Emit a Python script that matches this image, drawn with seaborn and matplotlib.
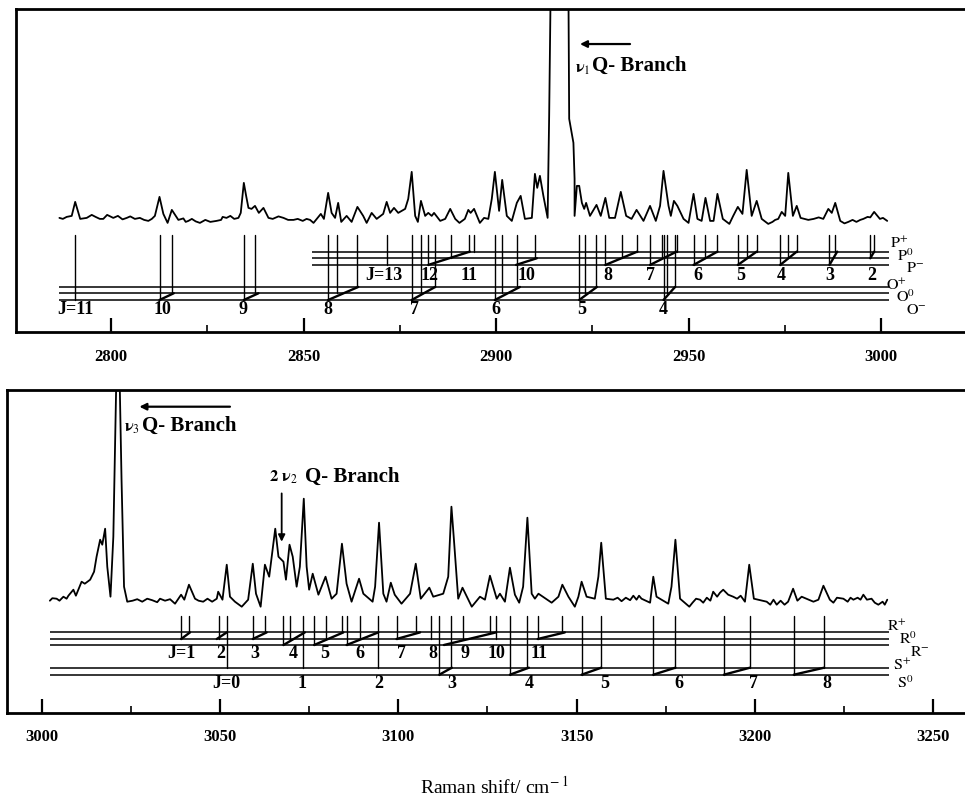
import matplotlib
matplotlib.use('Agg')
import pandas as pd
import seaborn as sns
import matplotlib.pyplot as plt

# spectrum 1 (v1 region)
shift_1 = [2786.6, 2788.5, 2789.8, 2790.7, 2792.0, 2793.7, 2795.0, 2797.1, 2799.0, 2800.6, 2804.1, 2807.5, 2809.7, 2811.4,
           2812.6, 2813.6, 2814.7, 2815.8, 2817.5, 2820.1, 2823.1, 2827.4, 2830.0, 2833.1, 2833.7, 2834.5, 2835.1, 2835.7,
           2836.5, 2837.4, 2838.4, 2839.6, 2840.9, 2844.8, 2847.4, 2851.7, 2852.6, 2854.5, 2855.3, 2856.4, 2857.3, 2858.2,
           2859.0, 2859.8, 2861.2, 2862.5, 2864.0, 2865.5, 2866.4, 2867.7, 2869.0, 2870.7, 2871.6, 2872.5, 2873.5, 2874.6,
           2876.4, 2877.2, 2878.1, 2879.0, 2879.7, 2880.5, 2881.6, 2882.4, 2883.3, 2883.9, 2885.5, 2886.8, 2888.1, 2889.4,
           2890.5, 2891.9, 2892.8, 2893.4, 2894.3, 2895.8, 2896.9, 2898.0, 2898.9, 2899.7, 2900.8, 2901.6, 2902.8, 2904.1,
           2905.4, 2906.4, 2907.5, 2909.3, 2910.1, 2910.7, 2911.4, 2912.3, 2913.4, 2913.8, 2914.2, 2918.8, 2919.0, 2920.1,
           2920.4, 2920.4, 2921.0, 2921.6, 2922.3, 2922.9, 2923.4, 2924.4, 2926.1, 2927.2, 2928.4, 2929.4, 2930.9, 2932.4,
           2933.8, 2935.2, 2936.5, 2938.3, 2940.0, 2941.5, 2942.6, 2943.5, 2944.8, 2945.4, 2946.2, 2947.1, 2948.7, 2950.0,
           2951.3, 2952.3, 2953.4, 2954.4, 2955.6, 2956.5, 2957.5, 2958.9, 2960.6, 2961.6, 2962.8, 2964.0, 2965.1, 2966.4,
           2967.7, 2969.0, 2970.7, 2973.3, 2974.2, 2975.1, 2975.9, 2977.1, 2978.1, 2979.1, 2981.1, 2985.0, 2986.3, 2987.2,
           2988.1, 2989.4, 2991.5, 2995.4, 2998.2, 2999.7, 3001.6]
intensity_1 = [114, 115, 116, 130, 113, 114, 117, 113, 117, 114, 114, 114, 111, 116,
               135, 118, 109, 122, 112, 111, 109, 111, 114, 114, 119, 149, 136, 124,
               123, 126, 119, 124, 114, 114, 112, 112, 109, 118, 113, 139, 119, 114,
               129, 110, 116, 110, 125, 116, 109, 119, 113, 118, 130, 119, 124, 119,
               123, 133, 160, 116, 110, 131, 116, 119, 116, 119, 111, 113, 123, 113,
               109, 113, 122, 119, 123, 109, 114, 113, 133, 160, 121, 152, 116, 111,
               129, 136, 113, 114, 158, 144, 156, 136, 114, 216, 346, 346, 213, 189,
               153, 116, 146, 146, 129, 123, 129, 116, 127, 116, 134, 114, 114, 140,
               116, 113, 122, 111, 126, 111, 126, 161, 126, 116, 131, 126, 113, 109,
               138, 113, 111, 134, 111, 111, 138, 113, 108, 116, 125, 118, 162, 116,
               131, 113, 108, 113, 120, 116, 159, 116, 126, 114, 112, 113, 123, 119,
               129, 111, 110, 113, 120, 113, 111]
# baseline wiggles between the peaks
wiggle_shift_1 = [2787.5, 2796.0, 2798.0, 2801.8, 2803.0, 2805.0, 2806.2, 2808.6, 2810.6, 2818.8, 2819.4, 2821.0, 2822.0,
                  2824.5, 2825.8, 2828.6, 2829.0, 2831.0, 2832.0, 2842.0, 2843.5, 2846.0, 2848.5, 2849.8, 2850.8,
                  2971.8, 2972.5, 2982.5, 2983.8, 2990.5, 2992.6, 2993.6, 2994.6, 2996.5, 2997.2, 3000.5]
wiggle_intensity_1 = [113, 115, 113, 116, 112.5, 115.5, 113, 112, 113, 113.5, 110, 113, 110.5,
                      112, 110, 112, 115, 116, 113, 113, 115.5, 112, 113, 111, 113,
                      110, 112, 113, 114.5, 108.5, 112, 110, 112, 115, 114.5, 114]

# spectrum 2 (v3 region)
shift_2 = [3002.3, 3004.2, 3006.1, 3007.5, 3008.9, 3009.6, 3011.2, 3012.1, 3013.6, 3014.7, 3015.4, 3016.4, 3017.0, 3017.8,
           3018.4, 3019.3, 3020.1, 3021.0, 3021.8, 3022.4, 3023.1, 3024.0, 3027.6, 3033.2, 3037.4, 3039.1, 3040.0, 3041.3,
           3043.0, 3045.3, 3049.1, 3049.5, 3050.7, 3051.9, 3052.8, 3054.2, 3056.1, 3057.9, 3059.2, 3060.1, 3061.4, 3062.6,
           3063.8, 3065.5, 3066.4, 3067.8, 3068.5, 3069.5, 3070.4, 3071.5, 3072.4, 3073.5, 3074.3, 3075.0, 3076.0, 3077.6,
           3079.6, 3081.3, 3082.7, 3084.2, 3085.5, 3086.9, 3089.0, 3090.2, 3092.8, 3093.5, 3094.6, 3095.8, 3096.7, 3097.9,
           3099.0, 3100.9, 3103.3, 3104.9, 3106.3, 3108.7, 3109.8, 3112.6, 3114.0, 3114.9, 3115.6, 3116.8, 3118.0, 3120.6,
           3122.9, 3124.3, 3125.7, 3127.6, 3128.5, 3129.9, 3131.3, 3132.7, 3133.9, 3135.0, 3136.2, 3137.4, 3138.3, 3139.3,
           3143.0, 3144.9, 3146.0, 3147.7, 3149.5, 3150.5, 3151.4, 3152.8, 3155.1, 3156.1, 3156.9, 3158.2, 3160.3, 3165.9,
           3168.2, 3170.6, 3171.5, 3172.4, 3175.7, 3176.6, 3177.7, 3179.0, 3181.6, 3184.6, 3188.3, 3189.4, 3191.1, 3193.9,
           3197.2, 3198.4, 3199.7, 3203.3, 3206.1, 3209.3, 3210.7, 3211.9, 3213.1, 3216.4, 3217.8, 3219.2, 3221.0, 3224.8,
           3227.6, 3230.4, 3232.7, 3234.6, 3237.1]
intensity_2 = [112, 114, 116, 117, 123, 117, 131, 129, 133, 141, 156, 173, 168, 184,
               146, 116, 176, 346, 346, 233, 126, 111, 112, 114, 109, 118, 113, 128,
               114, 111, 114, 121, 113, 148, 116, 111, 106, 113, 149, 119, 106, 148,
               136, 184, 156, 151, 133, 168, 156, 126, 146, 214, 146, 123, 139, 118,
               136, 114, 119, 169, 129, 111, 134, 119, 111, 126, 190, 119, 111, 130,
               118, 109, 119, 149, 114, 125, 116, 119, 136, 206, 173, 114, 125, 106,
               116, 113, 137, 114, 119, 111, 145, 118, 110, 126, 195, 119, 114, 119,
               110, 116, 128, 116, 106, 116, 131, 116, 114, 136, 170, 114, 113, 117,
               114, 110, 136, 116, 109, 126, 173, 114, 106, 113, 121, 116, 123, 116,
               111, 148, 114, 111, 108, 111, 124, 112, 116, 111, 113, 127, 113, 114,
               113, 118, 114, 108, 113]
wiggle_shift_2 = [3003.0, 3005.0, 3007.0, 3025.5, 3026.8, 3028.2, 3029.6, 3031.0, 3032.4, 3034.6, 3036.0, 3044.0, 3046.5,
                  3047.8, 3161.5, 3162.6, 3163.8, 3165.0, 3166.8, 3167.5, 3182.5, 3183.5, 3185.5, 3186.5, 3187.5, 3190.2,
                  3192.5, 3195.0, 3196.0, 3204.3, 3205.2, 3207.2, 3208.3, 3222.0, 3223.0, 3226.0, 3226.8, 3228.8, 3229.6,
                  3231.4, 3233.6, 3235.8, 3236.4]
wiggle_intensity_2 = [114.5, 112, 114, 112, 113.5, 111, 114, 112.5, 110.5, 112, 113.5, 112, 114,
                      111, 115, 111.5, 115, 112.5, 113, 117, 110, 114, 110, 115, 112, 120,
                      118, 114, 117, 108, 113, 112, 108, 110, 115, 111, 115, 115, 113,
                      113, 110, 111, 108]

# ladder levels
stick_top = 96.7
p_plus, p_zero, p_minus = 80.3, 73.7, 67.0
o_plus, o_zero, o_minus = 45.0, 38.7, 32.0
r_plus, r_zero, r_minus = 80.3, 73.7, 67.7
s_plus, s_zero = 45.0, 38.0

# top panel assignments: (shift, lower end)
o_sticks = [(2790.7, o_minus), (2812.6, o_minus), (2815.8, o_zero), (2834.5, o_minus), (2837.4, o_zero),
            (2856.4, o_minus), (2858.8, o_zero), (2863.8, o_plus), (2878.1, o_minus), (2880.5, o_zero), (2884.2, o_plus),
            (2899.7, o_minus), (2901.6, o_zero), (2905.4, o_plus), (2921.6, o_minus), (2923.2, o_zero), (2925.9, o_plus),
            (2943.5, o_minus), (2944.3, o_zero), (2946.5, o_plus)]
p_sticks = [(2871.6, p_minus), (2882.4, p_minus), (2888.3, p_zero), (2893.1, p_plus), (2894.3, p_plus),
            (2910.1, p_zero), (2928.4, p_minus), (2932.6, p_zero), (2936.7, p_plus),
            (2940.0, p_minus), (2943.0, p_zero), (2946.9, p_plus), (2951.3, p_minus), (2954.4, p_zero), (2957.5, p_plus),
            (2962.8, p_minus), (2965.1, p_zero), (2967.7, p_plus), (2973.8, p_minus), (2975.9, p_zero), (2978.1, p_plus),
            (2986.6, p_minus), (2988.1, p_plus), (2997.2, p_zero), (2998.2, p_plus)]
top_links = [(2812.6, o_minus, 2816.3, o_zero), (2834.5, o_minus, 2838.3, o_zero), (2856.4, o_minus, 2864.2, o_plus),
             (2878.1, o_minus, 2884.2, o_plus), (2899.7, o_minus, 2906.2, o_plus), (2921.6, o_minus, 2926.2, o_plus),
             (2943.5, o_minus, 2946.5, o_plus), (2882.4, p_minus, 2893.2, p_plus), (2905.2, p_minus, 2910.6, p_zero),
             (2928.4, p_minus, 2936.7, p_plus), (2940.0, p_minus, 2946.9, p_plus), (2951.3, p_minus, 2957.5, p_plus),
             (2962.8, p_minus, 2967.7, p_plus), (2973.8, p_minus, 2978.1, p_plus), (2986.6, p_minus, 2988.6, p_plus),
             (2997.2, p_zero, 2998.2, p_plus)]

# bottom panel assignments
r_sticks = [(3039.1, r_zero), (3041.3, r_plus), (3049.8, r_zero), (3059.2, r_zero), (3062.6, r_plus),
            (3067.8, r_minus), (3069.6, r_zero), (3076.4, r_minus), (3079.7, r_zero), (3084.2, r_plus),
            (3085.5, r_minus), (3089.4, r_zero), (3099.5, r_zero), (3105.1, r_plus), (3109.1, r_zero),
            (3118.2, r_zero), (3125.7, r_plus), (3127.4, r_zero), (3139.1, r_zero), (3146.0, r_plus)]
s_sticks = [(3051.9, s_plus), (3073.2, s_plus), (3094.2, s_plus), (3111.5, s_zero), (3114.8, s_plus),
            (3131.3, s_zero), (3136.0, s_plus), (3151.4, s_zero), (3156.9, s_plus), (3171.5, s_zero), (3177.7, s_plus),
            (3191.3, s_zero), (3198.6, s_plus), (3210.9, s_zero), (3219.4, s_plus)]
bottom_links = [(3039.1, r_zero, 3041.6, r_plus), (3049.1, r_zero, 3051.9, r_plus), (3059.2, r_zero, 3063.1, r_plus),
                (3067.8, r_minus, 3073.8, r_plus), (3076.4, r_minus, 3084.6, r_plus), (3085.5, r_minus, 3094.4, r_plus),
                (3099.5, r_zero, 3106.1, r_plus), (3112.8, r_minus, 3127.4, r_plus), (3139.1, r_zero, 3146.7, r_plus),
                (3111.5, s_zero, 3115.0, s_plus), (3131.3, s_zero, 3136.6, s_plus), (3151.4, s_zero, 3156.9, s_plus),
                (3171.5, s_zero, 3177.7, s_plus), (3191.3, s_zero, 3198.6, s_plus), (3210.9, s_zero, 3219.4, s_plus)]

# J labels
o_labels = ['J=11', '10', '9', '8', '7', '6', '5', '4']
o_label_x = [2790.7, 2813.3, 2834.2, 2856.4, 2878.8, 2899.9, 2922.3, 2943.5]
p_labels = ['J=13', '12', '11', '10', '8', '7', '6', '5', '4', '3', '2']
p_label_x = [2870.9, 2882.6, 2893.1, 2908.0, 2929.0, 2940.2, 2952.4, 2963.5, 2974.0, 2986.8, 2997.6]
r_labels = ['J=1', '2', '3', '4', '5', '6', '7', '8', '9', '10', '11']
r_label_x = [3039.3, 3050.3, 3059.9, 3070.6, 3079.4, 3089.3, 3100.9, 3109.6, 3118.8, 3127.4, 3139.5]
s_labels = ['J=0', '1', '2', '3', '4', '5', '6', '7', '8']
s_label_x = [3051.9, 3073.0, 3094.4, 3115.0, 3136.7, 3157.8, 3178.8, 3199.5, 3220.1]

sns.set_style('ticks')
plt.rcParams['font.family'] = ['Liberation Serif', 'DejaVu Serif']
plt.rcParams['mathtext.fontset'] = 'stix'
plt.rcParams['text.color'] = 'black'
plt.rcParams['xtick.labelcolor'] = 'black'


def draw_panel(ax, shift, intensity, xlim, major, minor):
    df = pd.DataFrame({'shift': shift, 'intensity': intensity})
    df = df.sort_values('shift', kind='mergesort')
    sns.lineplot(data=df, x='shift', y='intensity', sort=False, estimator=None, color='black', lw=1.3, ax=ax)
    ax.set_xlim(xlim)
    ax.set_ylim(0, 322.7)
    ax.set_xlabel('')
    ax.set_ylabel('')
    ax.set_yticks([])
    ax.set_xticks(major)
    ax.set_xticks(minor, minor=True)
    ax.tick_params(axis='x', which='major', direction='in', length=10, width=1.6, pad=12, labelsize=12, color='black')
    ax.tick_params(axis='x', which='minor', direction='in', length=5, width=1.4)
    ax.spines['right'].set_visible(False)
    for s in ['left', 'top', 'bottom']:
        ax.spines[s].set_linewidth(2)
        ax.spines[s].set_color('black')
    for lab in ax.get_xticklabels():
        lab.set_fontweight('bold')


def draw_ladder(ax, sticks, links):
    for x, low in sticks:
        ax.plot([x, x], [stick_top, low], color='black', lw=1.0)
    for x0, y0, x1, y1 in links:
        ax.plot([x0, x1], [y0, y1], color='black', lw=1.7)


def put_labels(ax, labels, xs, y):
    for lab, x in zip(labels, xs):
        ax.text(x, y, lab, ha='center', va='center', fontweight='bold', fontsize=13)


fig = plt.figure(figsize=(9.65, 8.02), dpi=100)
ax1 = fig.add_axes([15.5 / 965, 1 - 332 / 802, 949.5 / 965, 323 / 802])
ax2 = fig.add_axes([6.7 / 965, 1 - 712.7 / 802, 958.3 / 965, 322.7 / 802])

draw_panel(ax1, shift_1 + wiggle_shift_1, intensity_1 + wiggle_intensity_1, (2775.2, 3021.8),
           [2800, 2850, 2900, 2950, 3000], [2825, 2875, 2925, 2975])
draw_panel(ax2, shift_2 + wiggle_shift_2, intensity_2 + wiggle_intensity_2, (2990.2, 3258.9),
           [3000, 3050, 3100, 3150, 3200, 3250], [3025, 3075, 3125, 3175, 3225])

# top ladder
ax1.hlines([p_plus, p_zero, p_minus], 2852.2, 3002.0, color='black', lw=1.1)
ax1.hlines([o_plus, o_zero, o_minus], 2786.6, 3002.0, color='black', lw=1.1)
draw_ladder(ax1, o_sticks + p_sticks, top_links)
put_labels(ax1, o_labels, o_label_x, 22.7)
put_labels(ax1, p_labels, p_label_x, 56)

# bottom ladder
ax2.hlines([r_plus, r_zero, r_minus], 3002.3, 3237.6, color='black', lw=1.1)
ax2.hlines([s_plus, s_zero], 3002.3, 3237.6, color='black', lw=1.1)
draw_ladder(ax2, r_sticks + s_sticks, bottom_links)
put_labels(ax2, r_labels, r_label_x, 58.7)
put_labels(ax2, s_labels, s_label_x, 28.7)

# branch names
for x, y, t in [(3002.2, 87.7, r'$\mathrm{P}^{+}$'), (3004.2, 75.3, r'$\mathrm{P}^{0}$'), (3006.6, 64.3, r'$\mathrm{P}^{-}$'),
                (3001.3, 46.0, r'$\mathrm{O}^{+}$'), (3004.0, 34.3, r'$\mathrm{O}^{0}$'), (3006.6, 21.7, r'$\mathrm{O}^{-}$')]:
    ax1.text(x, y, t, ha='left', va='center', fontsize=11.5, clip_on=False)
for x, y, t in [(3237.1, 86.0, r'$\mathrm{R}^{+}$'), (3240.4, 73.3, r'$\mathrm{R}^{0}$'), (3243.4, 61.0, r'$\mathrm{R}^{-}$'),
                (3238.6, 46.7, r'$\mathrm{S}^{+}$'), (3239.7, 29.3, r'$\mathrm{S}^{0}$')]:
    ax2.text(x, y, t, ha='left', va='center', fontsize=11.5, clip_on=False)

# Q branch notes
ax1.annotate('', xy=(2921.8, 287.7), xytext=(2934.8, 287.7),
             arrowprops=dict(arrowstyle='-|>', color='black', lw=1.6, shrinkA=0, shrinkB=0))
ax1.text(2920.6, 263, r'$\mathbf{\nu}_{1}$', ha='left', va='center', fontsize=12)
ax1.text(2924.8, 265.5, 'Q- Branch', ha='left', va='center', fontsize=15, fontweight='bold')

ax2.annotate('', xy=(3027.4, 306), xytext=(3052.8, 306),
             arrowprops=dict(arrowstyle='-|>', color='black', lw=1.6, shrinkA=0, shrinkB=0))
ax2.text(3023.2, 285, r'$\mathbf{\nu}_{3}$', ha='left', va='center', fontsize=12)
ax2.text(3028.0, 286.5, 'Q- Branch', ha='left', va='center', fontsize=15, fontweight='bold')

ax2.text(3063.8, 235, r'$\mathbf{2}\ \mathbf{\nu}_{2}$', ha='left', va='center', fontsize=12)
ax2.text(3073.8, 235.5, 'Q- Branch', ha='left', va='center', fontsize=15, fontweight='bold')
ax2.annotate('', xy=(3067.3, 171), xytext=(3067.3, 219.3),
             arrowprops=dict(arrowstyle='-|>', color='black', lw=1.3, shrinkA=0, shrinkB=0))

fig.text(495 / 965, 1 - 787 / 802, 'Raman shift/ cm$^{-\\ 1}$', ha='center', va='center', fontsize=14)

fig.savefig('out.png', dpi=100)
